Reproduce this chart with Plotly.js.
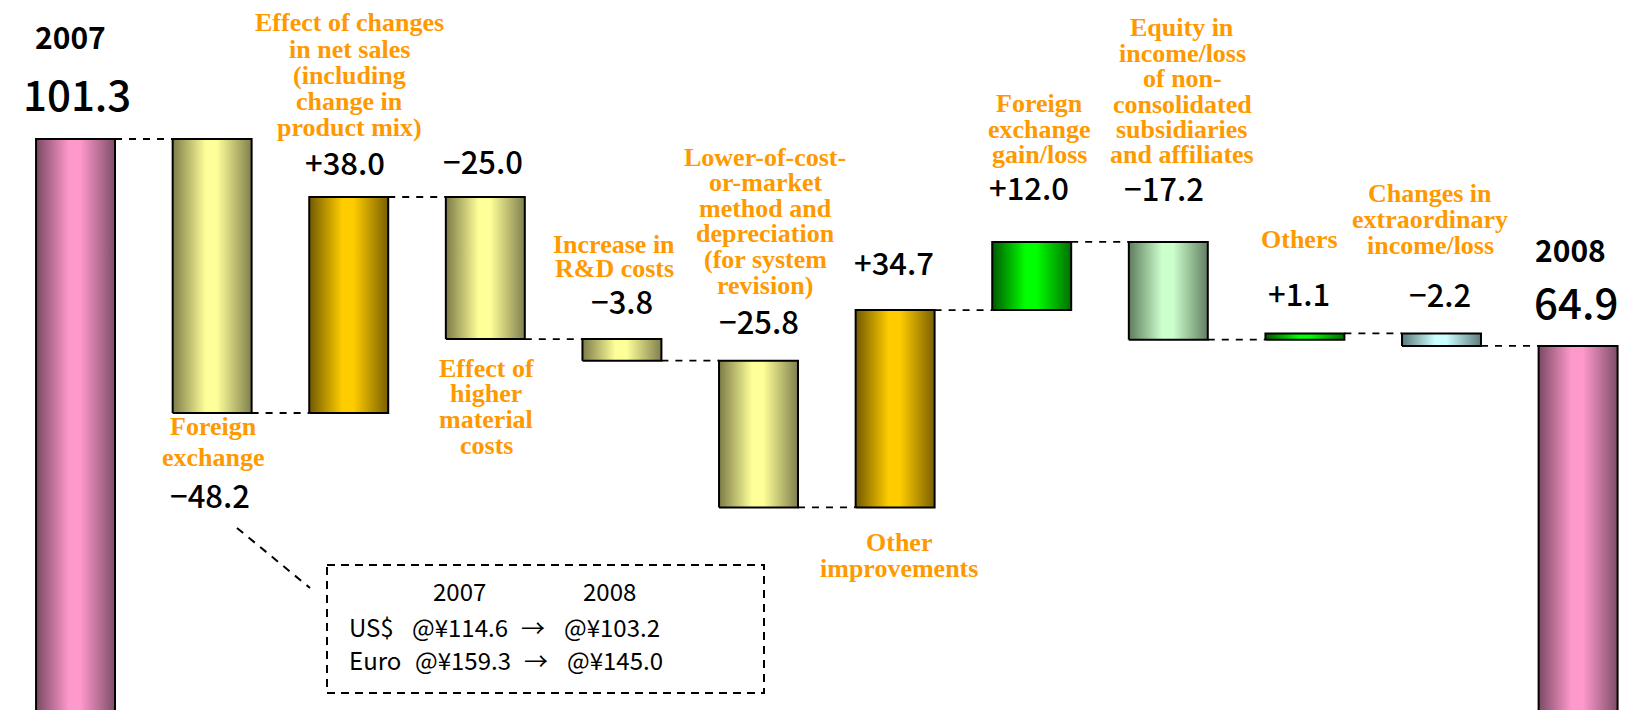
<!DOCTYPE html>
<html>
<head>
<meta charset="utf-8">
<script src="https://cdn.plot.ly/plotly-3.0.1.min.js"></script>
<style>html,body{margin:0;padding:0;background:#fff;}#chart{width:1630px;height:710px;}</style>
</head>
<body>
<div id="chart"></div>
<script>
// ---------------- DATA ----------------
const categories = ['2007', 'Foreign exchange', 'Effect of changes in net sales (including change in product mix)',
  'Effect of higher material costs', 'Increase in R&D costs',
  'Lower-of-cost-or-market method and depreciation (for system revision)', 'Other improvements',
  'Foreign exchange gain/loss', 'Equity in income/loss of non-consolidated subsidiaries and affiliates',
  'Others', 'Changes in extraordinary income/loss', '2008'];
const changes = [101.3, -48.2, 38.0, -25.0, -3.8, -25.8, 34.7, 12.0, -17.2, 1.1, -2.2, 64.9];
const measures = ['total', 'relative', 'relative', 'relative', 'relative', 'relative', 'relative',
  'relative', 'relative', 'relative', 'relative', 'total'];
const valueText = ['101.3', '\u221248.2', '+38.0', '\u221225.0', '\u22123.8', '\u221225.8', '+34.7',
  '+12.0', '\u221217.2', '+1.1', '\u22122.2', '64.9'];
const yearLabels = ['2007', '2008'];
const labelLines = [
  [],
  ['Foreign', 'exchange'],
  ['Effect of changes', 'in net sales', '(including', 'change in', 'product mix)'],
  ['Effect of', 'higher', 'material', 'costs'],
  ['Increase in', 'R&D costs'],
  ['Lower-of-cost-', 'or-market', 'method and', 'depreciation', '(for system', 'revision)'],
  ['Other', 'improvements'],
  ['Foreign', 'exchange', 'gain/loss'],
  ['Equity in', 'income/loss', 'of non-', 'consolidated', 'subsidiaries', 'and affiliates'],
  ['Others'],
  ['Changes in', 'extraordinary', 'income/loss'],
  []
];
const fxYears = ['2007', '2008'];
const fxCurrencies = ['US$', 'Euro'];
const fxRate2007 = [114.6, 159.3];
const fxRate2008 = [103.2, 145.0];
const barPalette = ['pink', 'yellow', 'gold', 'yellow', 'yellow', 'yellow', 'gold', 'green', 'palegreen', 'green', 'cyan', 'pink'];

// ---------------- STYLE ----------------
const W = 1630, H = 710;
const BAR_W = 0.578;
const GRAD = {
  pink: ['#7b4963', '#ff99cc', '#7f4d68'],
  yellow: ['#7c7c48', '#ffff99', '#80804e'],
  gold: ['#735a00', '#ffcc00', '#7a6000'],
  green: ['#005a00', '#00ff00', '#007000'],
  palegreen: ['#5e7c5e', '#ccffcc', '#627f62'],
  cyan: ['#5c7a7a', '#ccffff', '#5f7d7d']
};
const ORANGE = '#ff9900';
const LBL_FONT = {family: 'Liberation Serif, Times New Roman, serif', size: 26, color: ORANGE};
const NUM_FAMILY = 'Noto Sans CJK JP, Noto Sans, sans-serif';
// label pixel positions: [centerX, firstLineY, pitch]
const LABEL_POS = {1: [213, 426, 31], 2: [349, 23, 26.2], 3: [486, 368, 25.7], 4: [614, 244, 25],
  5: [765, 157, 25.6], 6: [899, 542, 26], 7: [1039, 103, 26], 8: [1182, 28, 25.4], 9: [1299, 239, 26],
  10: [1430, 193, 26]};
const VALUE_POS = [[77, 94], [210, 497], [345, 163], [483, 162], [622, 302], [759, 322], [894, 264],
  [1029, 188], [1164, 189], [1299, 294], [1440, 295], [1576, 302]];
const YEAR_POS = [[70, 38], [1570, 251]];

const px = x => x / W;
const py = y => 1 - y / H;

// ---------------- BUILD ----------------
const traces = [];
let level = 0;
const ends = [];
changes.forEach((v, i) => {
  let base, top;
  if (measures[i] === 'total') { base = 0; top = v; level = v; }
  else { const s = level; level = s + v; base = Math.min(s, level); top = Math.max(s, level); }
  ends.push(level);
  const l = i - BAR_W / 2, r = i + BAR_W / 2;
  const g = GRAD[barPalette[i]];
  traces.push({
    type: 'scatter', mode: 'lines', x: [l, l, r, r, l], y: [base, top, top, base, base],
    fill: 'toself', fillcolor: g[1],
    fillgradient: {type: 'horizontal', colorscale: [[0, g[0]], [0.42, g[1]], [0.56, g[1]], [1, g[2]]]},
    line: {color: '#000', width: 2}, hoverinfo: 'skip', showlegend: false, name: categories[i]
  });
});
// connectors
const cx = [], cy = [];
for (let i = 0; i < changes.length - 1; i++) {
  cx.push(i + BAR_W / 2, i + 1 - BAR_W / 2, null);
  cy.push(ends[i], ends[i], null);
}
traces.push({type: 'scatter', mode: 'lines', x: cx, y: cy, line: {color: '#000', width: 1.8, dash: '7px,7px'},
  hoverinfo: 'skip', showlegend: false});

const annotations = [];
labelLines.forEach((lines, i) => {
  const p = LABEL_POS[i];
  if (!p) return;
  lines.forEach((t, k) => {
    annotations.push({xref: 'paper', yref: 'paper', x: px(p[0]), y: py(p[1] + k * p[2]),
      xanchor: 'center', yanchor: 'middle', showarrow: false,
      text: '<b>' + t.replace(/&/g, '&amp;') + '</b>', font: LBL_FONT});
  });
});
valueText.forEach((t, i) => {
  const big = measures[i] === 'total';
  annotations.push({xref: 'paper', yref: 'paper', x: px(VALUE_POS[i][0]), y: py(VALUE_POS[i][1] - 2),
    xanchor: 'center', yanchor: 'middle', showarrow: false, text: t,
    font: {family: NUM_FAMILY, size: big ? 42 : 31, color: '#000', weight: 500}});
});
yearLabels.forEach((t, k) => {
  annotations.push({xref: 'paper', yref: 'paper', x: px(YEAR_POS[k][0]), y: py(YEAR_POS[k][1] - 2),
    xanchor: 'center', yanchor: 'middle', showarrow: false, text: '<b>' + t + '</b>',
    font: {family: NUM_FAMILY, size: 30, color: '#000'}});
});
// exchange-rate box
const BOX_FONT = {family: NUM_FAMILY, size: 24, color: '#000'};
const boxText = (t, x, y, anchor) => annotations.push({xref: 'paper', yref: 'paper', x: px(x), y: py(y - 1.5),
  xanchor: anchor, yanchor: 'middle', showarrow: false, text: t, font: BOX_FONT});
boxText(fxYears[0], 459, 592, 'center');
boxText(fxYears[1], 609, 592, 'center');
const rowY = [628, 661];
fxCurrencies.forEach((c, k) => {
  boxText(c, 347, rowY[k], 'left');
  boxText('@\u00a5' + fxRate2007[k].toFixed(1), 410 + 3 * k, rowY[k], 'left');
  boxText('\u2192', 533 + 3 * k, rowY[k], 'center');
  boxText('@\u00a5' + fxRate2008[k].toFixed(1), 562 + 3 * k, rowY[k], 'left');
});

const shapes = [
  {type: 'rect', xref: 'paper', yref: 'paper', x0: px(327), x1: px(764), y0: py(565), y1: py(693),
    line: {color: '#000', width: 2, dash: '8px,6px'}},
  {type: 'line', xref: 'paper', yref: 'paper', x0: px(237), y0: py(528), x1: px(310), y1: py(588),
    line: {color: '#000', width: 2, dash: '8px,7px'}}
];

const layout = {
  width: W, height: H, margin: {l: 0, r: 0, t: 0, b: 0},
  paper_bgcolor: '#fff', plot_bgcolor: '#fff', showlegend: false,
  xaxis: {range: [-0.553, 11.38], visible: false, fixedrange: true},
  yaxis: {range: [0.86, 125.75], visible: false, fixedrange: true},
  annotations, shapes
};
Plotly.newPlot('chart', traces, layout, {displayModeBar: false, staticPlot: true});
</script>
</body>
</html>
